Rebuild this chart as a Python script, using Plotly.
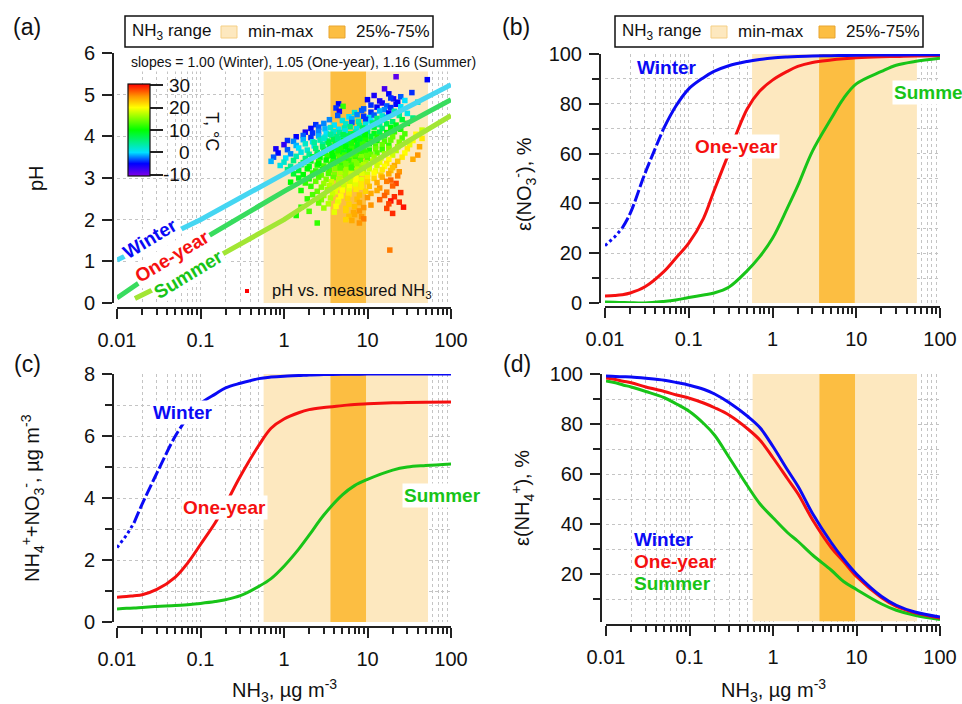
import plotly.graph_objects as go

# ---------------- data ----------------
nh3_grid = [0.01, 0.013, 0.016, 0.02, 0.03, 0.05, 0.07, 0.1, 0.15, 0.2, 0.3, 0.5, 0.7,
            1, 1.5, 2, 3, 5, 7, 10, 20, 30, 50, 100]

# (b) epsilon(NO3-), %
eps_no3_winter = [23, 26.5, 30, 36, 52, 70, 79, 86, 90.5, 93, 95.3, 97, 97.8,
                  98.4, 98.8, 99, 99.2, 99.3, 99.4, 99.5, 99.6, 99.6, 99.7, 99.7]
eps_no3_oneyear = [2.8, 3.0, 3.3, 4.0, 6.5, 12.5, 18, 24, 34, 45, 60, 78, 85,
                   89.5, 93, 95, 96.6, 97.6, 98.1, 98.5, 98.9, 99.0, 99.2, 99.3]
eps_no3_summer = [0.4, 0.3, 0.2, 0.1, 0.0, 0.6, 1.2, 2.2, 3.2, 4.0, 6.3, 13, 18.5,
                  26, 38, 47, 61, 74, 82, 88, 93, 95.5, 97, 98.3]

# (c) NH4+ + NO3-, ug m-3
tot_winter = [2.4, 2.8, 3.2, 3.8, 4.8, 6.0, 6.6, 7.05, 7.35, 7.55, 7.7, 7.85, 7.9,
              7.93, 7.95, 7.97, 7.98, 7.99, 7.99, 8.0, 8.0, 8.0, 8.0, 8.0]
tot_oneyear = [0.8, 0.82, 0.85, 0.88, 1.05, 1.45, 1.9, 2.5, 3.2, 3.8, 4.7, 5.7, 6.25,
               6.55, 6.75, 6.85, 6.92, 6.98, 7.02, 7.04, 7.07, 7.08, 7.09, 7.1]
tot_summer = [0.42, 0.44, 0.45, 0.47, 0.5, 0.53, 0.56, 0.6, 0.66, 0.72, 0.85, 1.15, 1.4,
              1.8, 2.35, 2.8, 3.45, 4.1, 4.4, 4.6, 4.9, 5.0, 5.05, 5.1]

# (d) epsilon(NH4+), %
eps_nh4_winter = [99.2, 99.0, 98.9, 98.8, 98.3, 97.5, 96.6, 95.5, 93.8, 92, 88.5, 83, 78.5,
                  71, 61.5, 55, 44, 32.5, 26, 20, 11, 7.5, 4.8, 2.8]
eps_nh4_oneyear = [98.4, 97.8, 97.1, 96.5, 94.8, 93, 91.6, 90.3, 88.3, 86.5, 83.5, 78, 73.5,
                   66.5, 58, 52, 41.5, 30.5, 25, 19, 10.5, 7, 4.5, 2.4]
eps_nh4_summer = [97.2, 96.5, 95.6, 94.8, 93.0, 90.5, 88.0, 85, 80, 75.5, 66.5, 55, 48,
                  42.5, 36.5, 33, 27.5, 21.5, 17, 13.8, 8, 5.5, 3.5, 1.8]

# (a) predicted pH lines
ph_line_nh3_winter = [0.01, 0.1, 1, 10, 100]
ph_line_winter = [1.03, 2.0, 3.1, 4.2, 5.24]
ph_line_nh3_oneyear = [0.01, 0.1, 1, 10, 100]
ph_line_oneyear = [0.12, 1.5, 2.68, 3.8, 4.88]
ph_line_nh3_summer = [0.0164, 0.1, 1, 10, 100]
ph_line_summer = [0.11, 0.88, 2.0, 3.3, 4.5]

# NH3 measured range
nh3_minmax = [0.57, 53]
nh3_iqr = [3.6, 9.6]

# (a) measured pH vs NH3, coloured by temperature (deg C)
scatter_nh3 = [
    22, 52,
    16, 34,
    12, 18, 25, 20.5,
    10, 14, 19, 28, 23,
    4.5, 11, 15, 17, 22, 40,
    4.2, 5.1, 9, 13, 16, 19, 25,
    4.6, 7, 8.5, 11, 14, 18, 21, 30,
    4.4, 6, 7.5, 9, 10.5, 12, 15, 17, 24, 35,
    3.5, 5, 6.5, 7.8, 9.5, 11, 13, 16, 20, 26,
    2.4, 3, 4, 5.5, 6.5, 8, 9.5, 11.5, 14, 17, 22, 30, 45,
    2.1, 2.6, 3.1, 3.6, 4.5, 5.3, 6.2, 7.4, 8.8, 10, 12, 15, 19, 25, 38,
    1.8, 2.2, 2.6, 3.2, 3.9, 4.6, 5.4, 6.3, 7.2, 8.5, 10, 12, 14, 17, 21, 28, 45,
    1.4, 1.7, 2.1, 2.6, 3.1, 3.7, 4.3, 5, 5.8, 6.8, 8, 9.3, 11, 13, 16, 20, 26, 35,
    1.1, 1.3, 1.7, 2.2, 2.7, 3.3, 3.9, 4.5, 5.2, 6, 7, 8.2, 9.5, 11, 13, 16, 19, 24, 32, 42,
    1.0, 1.4, 1.8, 2.3, 2.9, 3.5, 4.1, 4.8, 5.6, 6.5, 7.6, 8.9, 10.5, 12.5, 15, 18, 23, 30,
    0.8, 1.1, 1.5, 1.9, 2.4, 3.0, 3.6, 4.2, 4.9, 5.7, 6.6, 7.7, 9, 10.5, 12.5, 15, 18, 22, 28, 40,
    0.85, 1.2, 1.6, 2.0, 2.5, 3.1, 3.7, 4.3, 5.0, 5.8, 6.8, 8.0, 9.4, 11, 13, 16, 20, 26, 35,
    0.75, 1.05, 1.4, 1.8, 2.2, 2.7, 3.3, 3.9, 4.6, 5.3, 6.2, 7.2, 8.4, 10, 12, 14.5, 18, 23,
    0.7, 1.0, 1.3, 1.7, 2.1, 2.6, 3.2, 3.8, 4.4, 5.1, 6, 7, 8.2, 9.6, 11.5, 14, 17, 21,
    0.9, 1.2, 1.6, 2.0, 2.5, 3.0, 3.6, 4.2, 4.9, 5.7, 6.6, 7.7, 9, 10.5, 13, 16, 20,
    1.1, 1.5, 1.9, 2.4, 2.9, 3.5, 4.1, 4.8, 5.6, 6.5, 7.6, 8.8, 10.5, 12.5, 15, 19, 24,
    1.3, 1.7, 2.2, 2.8, 3.4, 4.0, 4.7, 5.5, 6.4, 7.4, 8.6, 10, 12, 14.5, 18, 23,
    1.5, 2.0, 2.6, 3.2, 3.9, 4.6, 5.4, 6.3, 7.3, 8.5, 10, 12, 15, 19,
    1.2, 1.8, 2.4, 3.0, 3.7, 4.5, 5.3, 6.2, 7.2, 8.4, 10, 13, 17, 22,
    2.1, 2.8, 3.5, 4.3, 5.2, 6.1, 7.2, 8.5, 10.5, 14, 20,
    1.6, 2.5, 3.3, 4.1, 5.0, 6.0, 7.3, 9.5, 13, 17, 25,
    2.2, 3.0, 3.8, 4.8, 6.0, 8.0, 11, 16, 21,
    1.9, 2.8, 3.6, 4.5, 5.8, 7.5, 10, 14, 19,
    2.6, 3.4, 4.4, 6.0, 8.0, 11, 18, 24,
    1.6, 3.0, 4.2, 5.5, 7.0, 9.0, 17, 27,
    2.0, 4.0, 5.5, 6.8, 8.0, 20,
    1.4, 6.0, 7.0, 8.5,
    5.5, 6.5, 9.0, 8.0,
    2.5,
    18.5,
    # extra points in the dense core
    2.3, 2.9, 3.4, 4.0, 4.7, 5.5, 6.4, 7.5, 8.7,
    2.5, 3.1, 3.8, 4.5, 5.3, 6.1, 7.1, 8.3, 9.8,
    2.6, 3.2, 3.9, 4.7, 5.5, 6.4, 7.4, 8.6,
    3.0, 3.6, 4.4, 5.1, 5.9, 6.9, 8.0, 9.4,
]
scatter_ph = [
    5.43, 5.36,
    5.14, 5.05,
    4.98, 5.02, 4.95, 4.9,
    4.88, 4.85, 4.92, 4.86, 4.82,
    4.78, 4.75, 4.8, 4.73, 4.77, 4.82,
    4.68, 4.72, 4.66, 4.7, 4.64, 4.69, 4.71,
    4.6, 4.57, 4.62, 4.58, 4.61, 4.56, 4.6, 4.55,
    4.5, 4.47, 4.52, 4.48, 4.45, 4.51, 4.49, 4.46, 4.5, 4.44,
    4.4, 4.38, 4.42, 4.36, 4.41, 4.37, 4.43, 4.39, 4.35, 4.4,
    4.28, 4.31, 4.27, 4.3, 4.33, 4.26, 4.29, 4.32, 4.28, 4.3, 4.27, 4.31, 4.15,
    4.19, 4.22, 4.18, 4.21, 4.17, 4.2, 4.23, 4.18, 4.2, 4.16, 4.22, 4.19, 4.21, 4.17, 4.05,
    4.1, 4.08, 4.12, 4.07, 4.11, 4.09, 4.13, 4.06, 4.1, 4.08, 4.12, 4.07, 4.1, 4.09, 4.11, 4.06, 3.95,
    3.99, 4.02, 3.97, 4.01, 3.98, 4.03, 3.99, 3.96, 4.01, 3.98, 4.02, 3.97, 4.0, 3.98, 4.01, 3.99, 3.96, 3.9,
    3.9, 3.88, 3.92, 3.87, 3.91, 3.89, 3.93, 3.88, 3.9, 3.86, 3.91, 3.89, 3.92, 3.87, 3.9, 3.88, 3.91, 3.86, 3.8, 3.75,
    3.8, 3.78, 3.82, 3.77, 3.81, 3.79, 3.83, 3.78, 3.8, 3.76, 3.81, 3.79, 3.82, 3.77, 3.8, 3.78, 3.75, 3.7,
    3.7, 3.68, 3.72, 3.67, 3.71, 3.69, 3.73, 3.68, 3.7, 3.66, 3.71, 3.69, 3.72, 3.67, 3.7, 3.68, 3.71, 3.66, 3.6, 3.55,
    3.6, 3.58, 3.62, 3.57, 3.61, 3.59, 3.63, 3.58, 3.6, 3.56, 3.61, 3.59, 3.62, 3.57, 3.6, 3.58, 3.55, 3.5, 3.45,
    3.5, 3.48, 3.52, 3.47, 3.51, 3.49, 3.53, 3.48, 3.5, 3.46, 3.51, 3.49, 3.52, 3.47, 3.5, 3.48, 3.45, 3.4,
    3.4, 3.38, 3.42, 3.37, 3.41, 3.39, 3.43, 3.38, 3.4, 3.36, 3.41, 3.39, 3.42, 3.37, 3.4, 3.38, 3.35, 3.3,
    3.3, 3.28, 3.32, 3.27, 3.31, 3.29, 3.33, 3.28, 3.3, 3.26, 3.31, 3.29, 3.32, 3.27, 3.3, 3.28, 3.25,
    3.2, 3.18, 3.22, 3.17, 3.21, 3.19, 3.23, 3.18, 3.2, 3.16, 3.21, 3.19, 3.22, 3.17, 3.2, 3.18, 3.15,
    3.1, 3.08, 3.12, 3.07, 3.11, 3.09, 3.13, 3.08, 3.1, 3.06, 3.11, 3.09, 3.12, 3.07, 3.1, 3.05,
    3.0, 2.98, 3.02, 2.97, 3.01, 2.99, 3.03, 2.98, 3.0, 2.96, 3.01, 2.99, 3.02, 2.95,
    2.9, 2.88, 2.92, 2.87, 2.91, 2.89, 2.93, 2.88, 2.9, 2.86, 2.91, 2.89, 2.92, 2.87,
    2.8, 2.78, 2.82, 2.77, 2.81, 2.79, 2.83, 2.78, 2.8, 2.76, 2.81,
    2.7, 2.68, 2.72, 2.67, 2.71, 2.69, 2.73, 2.68, 2.7, 2.66, 2.65,
    2.6, 2.58, 2.62, 2.57, 2.61, 2.59, 2.63, 2.58, 2.55,
    2.5, 2.48, 2.52, 2.47, 2.51, 2.49, 2.53, 2.48, 2.45,
    2.4, 2.38, 2.42, 2.37, 2.41, 2.35, 2.38, 2.42,
    2.3, 2.28, 2.32, 2.27, 2.31, 2.29, 2.27, 2.3,
    2.2, 2.18, 2.22, 2.17, 2.21, 2.15,
    2.1, 2.08, 2.12, 2.07,
    2.0, 1.98, 2.02, 1.92,
    1.92,
    1.27,
    3.85, 3.75, 3.86, 3.74, 3.84, 3.76, 3.85, 3.73, 3.83,
    3.55, 3.65, 3.54, 3.66, 3.55, 3.64, 3.56, 3.65, 3.54,
    3.35, 3.25, 3.36, 3.24, 3.34, 3.26, 3.35, 3.24,
    3.95, 4.05, 3.94, 4.04, 3.95, 4.05, 3.94, 4.04,
]
scatter_temp = [
    -9, -5,
    -8, -4,
    -6, -5, -3, -6,
    -5, -6, -4, 0, -5,
    -5, -4, -6, -3, -5, 2,
    -4, 12, -3, -5, -2, -4, 0,
    -6, 2, -3, -4, -1, -5, 3, 1,
    -3, 0, -2, -4, 1, -3, 2, -1, 4, 5,
    -2, 1, -1, 3, -4, 0, 5, 2, 6, 8,
    -4, -2, 0, 2, -3, 4, 1, 6, 3, 7, 9, 10, 18,
    -5, -3, -1, 2, 0, 3, 5, 1, 7, 4, 8, 6, 10, 11, 20,
    -6, -4, -2, 0, 2, 4, 1, 6, 3, 8, 5, 9, 7, 10, 12, 13, 21,
    -5, -3, -4, -1, 1, 3, 5, 2, 7, 9, 6, 10, 8, 11, 12, 14, 13, 20,
    -4, -2, -1, 1, 3, 5, 7, 4, 9, 6, 10, 8, 11, 12, 10, 13, 14, 15, 19, 24,
    -7, -1, 2, 0, 4, 6, 8, 10, 7, 11, 9, 12, 10, 13, 14, 12, 16, 21,
    -6, -3, 0, 2, 5, 7, 9, 6, 11, 8, 12, 10, 13, 11, 14, 12, 15, 17, 20, 25,
    -5, -2, 1, 4, 6, 8, 10, 12, 9, 11, 13, 10, 12, 14, 13, 16, 18, 21, 24,
    -3, 0, 3, 5, 8, 10, 12, 9, 13, 11, 14, 12, 15, 13, 16, 18, 20, 23,
    -1, 2, 5, 7, 9, 12, 10, 13, 11, 14, 12, 15, 13, 16, 17, 19, 21, 24,
    1, 4, 7, 9, 11, 13, 12, 14, 12, 15, 13, 16, 17, 15, 18, 20, 23,
    5, 8, 10, 12, 11, 13, 15, 14, 16, 14, 17, 15, 18, 19, 21, 23, 25,
    8, 10, 12, 14, 13, 15, 17, 16, 18, 16, 19, 18, 20, 22, 24, 26,
    9, 11, 13, 15, 14, 17, 16, 18, 20, 19, 21, 22, 24, 27,
    10, 12, 14, 16, 18, 17, 19, 18, 20, 21, 22, 24, 26, 28,
    12, 15, 17, 19, 18, 20, 19, 21, 23, 25, 27,
    11, 14, 16, 19, 20, 19, 21, 22, 24, 26, 29,
    13, 16, 18, 20, 21, 23, 24, 27, 29,
    12, 15, 17, 20, 22, 23, 25, 27, 30,
    14, 17, 19, 22, 24, 25, 28, 29,
    12, 16, 20, 22, 23, 25, 28, 30,
    13, 19, 22, 24, 25, 29,
    11, 23, 24, 25,
    22, 24, 26, 25,
    12,
    26,
    4, 6, 8, 9, 7, 10, 11, 9, 12,
    8, 9, 10, 11, 12, 10, 13, 12, 14,
    10, 12, 11, 13, 14, 12, 15, 16,
    2, 4, 5, 7, 6, 8, 9, 10,
]
temp_ticks = [-10, 0, 10, 20, 30]

# ---------------- styling ----------------
FONT = "Liberation Sans, Arial, sans-serif"
W, H = 962, 704
BLUE, RED, GREEN = "#0a0af5", "#f51010", "#18c418"
LIGHT, DARK = "#fde8bf", "#fcbe42"
GRID = "#c4c4c4"


def fx(p):
    return p / W


def fy(p):
    return 1 - p / H


temp_scale = [[0.0, "rgb(128,0,230)"], [0.134, "rgb(0,0,255)"], [0.256, "rgb(0,225,255)"],
              [0.5, "rgb(0,255,0)"], [0.744, "rgb(255,255,0)"], [0.866, "rgb(255,150,0)"],
              [1.0, "rgb(255,0,0)"]]

panels = [
    # xdom px, ydom px (bottom, top), x-axis line y px, y-axis line x px, y settings
    dict(xd=(117, 451), yd=(303, 53), xl=308, yl=113, yr=[0, 6],
         ytv=[0, 1, 2, 3, 4, 5, 6], ymv=[]),
    dict(xd=(605, 940), yd=(303, 54), xl=307, yl=600, yr=[0, 100],
         ytv=[0, 20, 40, 60, 80, 100], ymv=[10, 30, 50, 70, 90]),
    dict(xd=(117, 451), yd=(622, 374), xl=627, yl=113, yr=[0, 8],
         ytv=[0, 2, 4, 6, 8], ymv=[1, 3, 5, 7]),
    dict(xd=(606, 940), yd=(621.5, 374), xl=625, yl=601, yr=[1, 100],
         ytv=[20, 40, 60, 80, 100], ymv=[10, 30, 50, 70, 90]),
]

fig = go.Figure()

# ---- NH3 range shading (drawn first, above grid) ----
for i, p in enumerate(panels):
    sfx = "" if i == 0 else str(i + 1)
    y0, y1 = p["yr"]
    for rng, col in [(nh3_minmax, LIGHT), (nh3_iqr, DARK)]:
        fig.add_trace(go.Scatter(x=[rng[0], rng[0], rng[1], rng[1], rng[0]],
                                 y=[y0, y1, y1, y0, y0], mode="lines", fill="toself",
                                 fillcolor=col, line=dict(width=0, color=col),
                                 xaxis="x" + sfx, yaxis="y" + sfx, showlegend=False,
                                 hoverinfo="skip"))

# ---- (a) ----
fig.add_trace(go.Scatter(
    x=scatter_nh3, y=scatter_ph, mode="markers", xaxis="x", yaxis="y",
    marker=dict(symbol="square", size=5.5, color=scatter_temp, colorscale=temp_scale,
                cmin=-10.5, cmax=30.5, line=dict(width=0),
                colorbar=dict(x=fx(128), xanchor="left", y=fy(130), yanchor="middle",
                              len=92, lenmode="pixels", thickness=22, thicknessmode="pixels",
                              xpad=0, ypad=0, outlinewidth=1.2, outlinecolor="#111",
                              tickmode="array", tickvals=temp_ticks, ticks="outside",
                              ticklen=13, tickwidth=2, tickcolor="#222",
                              showticklabels=False)),
    showlegend=False, hoverinfo="skip"))
for xs, ys, col in [(ph_line_nh3_winter, ph_line_winter, "#45d6f2"),
                    (ph_line_nh3_oneyear, ph_line_oneyear, "#38dc5e"),
                    (ph_line_nh3_summer, ph_line_summer, "#a2e634")]:
    fig.add_trace(go.Scatter(x=xs, y=ys, mode="lines", xaxis="x", yaxis="y",
                             line=dict(color=col, width=5), showlegend=False))


# ---- (b), (c), (d) curves ----
def winter_segments(vals, axx, axy, i_dot, i_dash):
    fig.add_trace(go.Scatter(x=nh3_grid[:i_dot + 1], y=vals[:i_dot + 1], mode="lines",
                             xaxis=axx, yaxis=axy, line=dict(color=BLUE, width=3, dash="dot"),
                             showlegend=False))
    fig.add_trace(go.Scatter(x=nh3_grid[i_dot:i_dash + 1], y=vals[i_dot:i_dash + 1], mode="lines",
                             xaxis=axx, yaxis=axy, line=dict(color=BLUE, width=3, dash="12px,3px"),
                             line_shape="spline", showlegend=False))
    fig.add_trace(go.Scatter(x=nh3_grid[i_dash:], y=vals[i_dash:], mode="lines",
                             xaxis=axx, yaxis=axy, line=dict(color=BLUE, width=3),
                             line_shape="spline", showlegend=False))


for vals, col in [(eps_no3_oneyear, RED), (eps_no3_summer, GREEN)]:
    fig.add_trace(go.Scatter(x=nh3_grid, y=vals, mode="lines", xaxis="x2", yaxis="y2",
                             line=dict(color=col, width=3), line_shape="spline", showlegend=False))
winter_segments(eps_no3_winter, "x2", "y2", 2, 5)

for vals, col in [(tot_oneyear, RED), (tot_summer, GREEN)]:
    fig.add_trace(go.Scatter(x=nh3_grid, y=vals, mode="lines", xaxis="x3", yaxis="y3",
                             line=dict(color=col, width=3), line_shape="spline", showlegend=False))
winter_segments(tot_winter, "x3", "y3", 2, 6)

for vals, col in [(eps_nh4_summer, GREEN), (eps_nh4_oneyear, RED), (eps_nh4_winter, BLUE)]:
    fig.add_trace(go.Scatter(x=nh3_grid, y=vals, mode="lines", xaxis="x4", yaxis="y4",
                             line=dict(color=col, width=3), line_shape="spline", showlegend=False))

# ---------------- axes ----------------
minor_log = [m * 10 ** e for e in range(-2, 2) for m in range(2, 10)]
axcommon = dict(showline=True, linecolor="#222", linewidth=2, ticks="outside",
                ticklen=10, tickwidth=2, tickcolor="#222", showgrid=True,
                gridcolor=GRID, griddash="dot", gridwidth=1, zeroline=False,
                tickfont=dict(family=FONT, size=20, color="#111"), fixedrange=True,
                automargin=False)
layout_axes = {}
for i, p in enumerate(panels):
    sfx = "" if i == 0 else str(i + 1)
    layout_axes["xaxis" + sfx] = dict(
        axcommon, type="log", range=[-2, 2], domain=[fx(p["xd"][0]), fx(p["xd"][1])],
        anchor="free", position=fy(p["xl"]), tickmode="array",
        tickvals=[0.01, 0.1, 1, 10, 100], ticktext=["0.01", "0.1", "1", "10", "100"],
        ticklabelstandoff=4,
        minor=dict(tickmode="array", tickvals=minor_log, ticks="outside", ticklen=6,
                   tickwidth=1.5, tickcolor="#222", showgrid=True, gridcolor=GRID,
                   griddash="dot", gridwidth=1))
    ydict = dict(axcommon, range=p["yr"], domain=[fy(p["yd"][0]), fy(p["yd"][1])],
                 anchor="free", position=fx(p["yl"]), tickmode="array",
                 tickvals=p["ytv"], ticklabelstandoff=3)
    if p["ymv"]:
        ydict["minor"] = dict(tickmode="array", tickvals=p["ymv"], ticks="outside", ticklen=7,
                              tickwidth=1.5, tickcolor="#222", showgrid=True, gridcolor=GRID,
                              griddash="dot", gridwidth=1)
    layout_axes["yaxis" + sfx] = ydict

# ---------------- legend boxes (shapes) ----------------
shapes = []
for off in [0, 490]:
    shapes.append(dict(type="rect", xref="paper", yref="paper", x0=fx(125 + off), x1=fx(433 + off),
                       y0=fy(47), y1=fy(16), line=dict(color="#111", width=1.5),
                       fillcolor="white", layer="above"))
    shapes.append(dict(type="rect", xref="paper", yref="paper", x0=fx(221 + off), x1=fx(237 + off),
                       y0=fy(38), y1=fy(26), line=dict(color="#f5cf85", width=1),
                       fillcolor=LIGHT, layer="above"))
    shapes.append(dict(type="rect", xref="paper", yref="paper", x0=fx(329 + off), x1=fx(345 + off),
                       y0=fy(38), y1=fy(26), line=dict(color="#e8a530", width=1),
                       fillcolor=DARK, layer="above"))
# red marker for the scatter legend
shapes.append(dict(type="rect", xref="paper", yref="paper", x0=fx(245), x1=fx(249),
                   y0=fy(293), y1=fy(289), line=dict(width=0), fillcolor="#ff0000", layer="above"))

# ---------------- annotations ----------------
ann = []


def txt(x, y, text, size=20, color="#111", xanchor="center", yanchor="middle", angle=0,
        bold=False, bg=None):
    d = dict(x=fx(x), y=fy(y), xref="paper", yref="paper", text=("<b>%s</b>" % text) if bold else text,
             showarrow=False, xanchor=xanchor, yanchor=yanchor, textangle=angle,
             font=dict(family=FONT, size=size, color=color))
    if bg:
        d["bgcolor"] = bg
        d["borderpad"] = 1
    ann.append(d)


# panel labels
txt(27, 27, "(a)", 23)
txt(516, 27, "(b)", 23)
txt(27, 364, "(c)", 23)
txt(517, 364, "(d)", 23)

# NH3 range legends
for off in [0, 490]:
    txt(130 + off, 32, "NH<sub>3</sub> range", 17, xanchor="left")
    txt(246 + off, 32, "min-max", 17, xanchor="left")
    txt(354 + off, 32, "25%-75%", 17, xanchor="left")

# axis titles
txt(36, 178, "pH", 20, angle=-90)
txt(524, 184, "ε(NO<sub>3</sub><sup>-</sup>), %", 20, angle=-90)
txt(32, 498, "NH<sub>4</sub><sup>+</sup>+NO<sub>3</sub><sup>-</sup>, µg m<sup>-3</sup>", 20, angle=-90)
txt(522, 498, "ε(NH<sub>4</sub><sup>+</sup>), %", 20, angle=-90)
txt(284, 690, "NH<sub>3</sub>, µg m<sup>-3</sup>", 20)
txt(773, 690, "NH<sub>3</sub>, µg m<sup>-3</sup>", 20)

# (a) texts
txt(303, 62, "slopes = 1.00 (Winter), 1.05 (One-year), 1.16 (Summer)", 14, bg="white")
txt(270, 291, "pH vs. measured NH<sub>3</sub>", 16.5, xanchor="left")
txt(150, 238, "Winter", 19, BLUE, angle=-31, bold=True, bg="white")
txt(172, 257, "One-year", 19, RED, angle=-31, bold=True, bg="white")
txt(188, 274, "Summer", 19, GREEN, angle=-31, bold=True, bg="white")
# colorbar labels + title
for t in temp_ticks:
    ypx = 84 + (30.5 - t) / 41 * 92
    txt(192, ypx, str(t), 19, xanchor="right")
txt(212, 131, "T, °C", 18, angle=90)

# (b) labels
txt(667, 67, "Winter", 19, BLUE, bold=True)
txt(736, 146, "One-year", 19, RED, bold=True, bg="white")
txt(892, 93, "Summer", 19, GREEN, xanchor="left", bold=True, bg="white")
# (c) labels
txt(183, 412, "Winter", 19, BLUE, bold=True, bg="white")
txt(224, 507, "One-year", 19, RED, bold=True, bg="white")
txt(442, 495, "Summer", 19, GREEN, bold=True, bg="white")
# (d) labels
txt(632, 539, "Winter", 19, BLUE, xanchor="left", bold=True)
txt(632, 561, "One-year", 19, RED, xanchor="left", bold=True)
txt(632, 583, "Summer", 19, GREEN, xanchor="left", bold=True)

fig.update_layout(
    width=W, height=H, margin=dict(l=0, r=0, t=0, b=0, pad=0, autoexpand=False),
    paper_bgcolor="white", plot_bgcolor="white", showlegend=False,
    shapes=shapes, annotations=ann, font=dict(family=FONT, size=20, color="#111"),
    **layout_axes)

fig.write_html("out.html", config={"displayModeBar": False},
               post_script="document.body.style.margin='0px';")
